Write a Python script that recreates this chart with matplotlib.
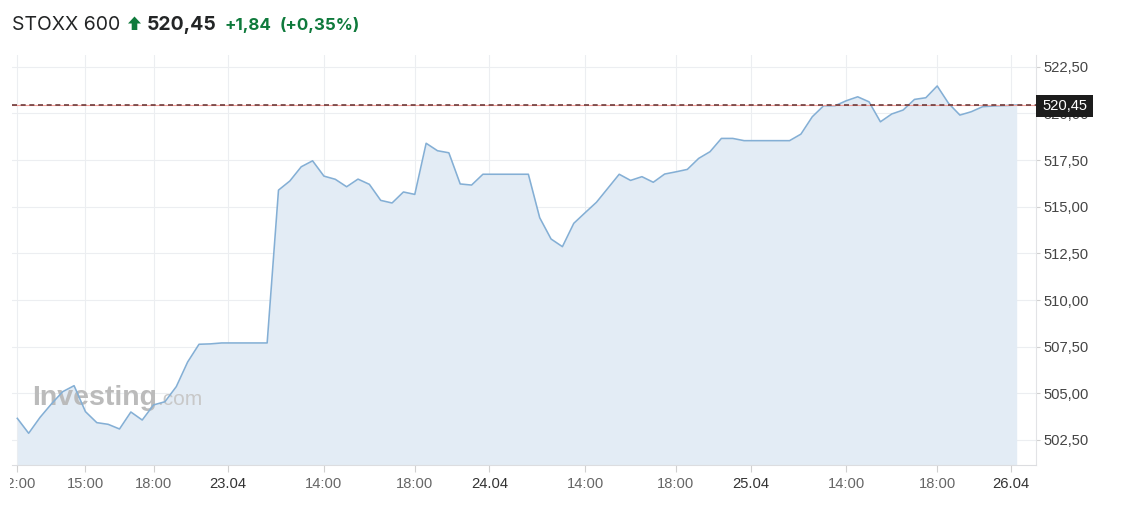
import matplotlib
matplotlib.use("Agg")
import matplotlib.pyplot as plt
from matplotlib.patches import Polygon, Rectangle
from matplotlib.transforms import blended_transform_factory, Bbox

# ---------------- data ----------------
values = [
    503.66, 502.86, 503.71, 504.43, 505.09, 505.41, 504.02, 503.43, 503.34, 503.09,
    504.00, 503.57, 504.38, 504.55, 505.36, 506.68, 507.63, 507.65, 507.70, 507.70,
    507.70, 507.70, 507.70, 515.89, 516.38, 517.14, 517.46, 516.64, 516.47, 516.07,
    516.48, 516.20, 515.34, 515.20, 515.79, 515.66, 518.40, 518.00, 517.89, 516.22,
    516.16, 516.74, 516.74, 516.74, 516.74, 516.74, 514.41, 513.27, 512.86, 514.11,
    514.68, 515.24, 515.99, 516.74, 516.41, 516.61, 516.31, 516.75, 516.87, 517.00,
    517.59, 517.95, 518.66, 518.66, 518.54, 518.54, 518.54, 518.54, 518.54, 518.89,
    519.82, 520.41, 520.41, 520.68, 520.89, 520.62, 519.55, 519.97, 520.18, 520.75,
    520.84, 521.47, 520.54, 519.91, 520.09, 520.36, 520.40, 520.42, 520.45,
]
x_idx = list(range(len(values)))

xtick_pos = [0, 6, 12, 18.53, 27, 35, 41.56, 50, 58, 64.58, 73, 81, 87.5]
xtick_labels = ['12:00', '15:00', '18:00', '23.04', '14:00', '18:00', '24.04',
                '14:00', '18:00', '25.04', '14:00', '18:00', '26.04']
date_labels = {'23.04', '24.04', '25.04', '26.04'}

ytick_vals = [502.5, 505.0, 507.5, 510.0, 512.5, 515.0, 517.5, 520.0, 522.5]

last_price = 520.45
title_name = 'STOXX 600'
title_price = '520,45'
title_change = '+1,84'
title_pct = '(+0,35%)'

# ---------------- figure ----------------
W, H = 1124, 514
fig = plt.figure(figsize=(W / 100, H / 100), dpi=100)
fig.patch.set_facecolor('white')

ax_left, ax_right, ax_top, ax_bottom = 12, 1036, 55, 465
ax = fig.add_axes([ax_left / W, (H - ax_bottom) / H,
                   (ax_right - ax_left) / W, (ax_bottom - ax_top) / H])

ymin, ymax = 501.16, 523.13
ax.set_xlim(-0.467, 89.7)
ax.set_ylim(ymin, ymax)

tick_font = 'Liberation Sans'

ax.fill_between(x_idx, values, ymin, color='#e3ecf5', lw=0, zorder=1)
ax.plot(x_idx, values, color='#84afd5', lw=1.15, zorder=3, solid_joinstyle='round')

# last-price line
ax.axhline(last_price, color='#f3a09a', lw=0.8, zorder=4)
ax.axhline(last_price, color='#6e3b3b', lw=1.2, dashes=(3, 2.2), zorder=4.1)

# grid
ax.set_axisbelow(True)
ax.grid(True, color='#eceef1', lw=0.8)

# spines
for s in ['top', 'left']:
    ax.spines[s].set_visible(False)
ax.spines['bottom'].set_color('#dcdde0')
ax.spines['right'].set_color('#e2e3e6')
ax.spines['bottom'].set_linewidth(0.8)
ax.spines['right'].set_linewidth(0.8)

# x ticks
ax.set_xticks(xtick_pos)
ax.set_xticklabels(xtick_labels, fontfamily=tick_font, fontsize=10.6)
ax.tick_params(axis='x', length=5, width=0.8, color='#d0d0d0', pad=4)
for lbl in ax.get_xticklabels():
    lbl.set_color('#333333' if lbl.get_text() in date_labels else '#666666')
first_lbl = ax.get_xticklabels()[0]
first_lbl.set_clip_box(Bbox([[10, 0], [W, H]]))
first_lbl.set_clip_on(True)

# y ticks on right
ax.yaxis.tick_right()
ax.set_yticks(ytick_vals)
ax.set_yticklabels([f'{v:.2f}'.replace('.', ',') for v in ytick_vals],
                   fontfamily=tick_font, fontsize=10.6)
ax.tick_params(axis='y', length=3, width=0.8, color='#d0d0d0', pad=2.5,
               labelcolor='#444444')

# last price label box
btr = blended_transform_factory(ax.transAxes, ax.transData)
box_w = 57 / (ax_right - ax_left)
px_per_unit = (ax_bottom - ax_top) / (ymax - ymin)
box_h = 22.5 / px_per_unit
box_c = last_price - 1.2 / px_per_unit
ax.add_patch(Rectangle((1.0, box_c - box_h / 2), box_w, box_h,
                       transform=btr, facecolor='#1c1c1c', edgecolor='none',
                       clip_on=False, zorder=10))
ax.text(1.0 + box_w / 2, box_c, title_price, transform=btr,
        ha='center', va='center', color='white', fontsize=10.6,
        fontfamily=tick_font, zorder=11, clip_on=False)

# watermark
ax.text((32 - ax_left) / (ax_right - ax_left), (ax_bottom - 405) / (ax_bottom - ax_top),
        'Investing', transform=ax.transAxes, fontsize=20.5, fontweight='bold',
        fontfamily='Liberation Sans', color='#bbbbbb', ha='left', va='baseline',
        zorder=2)
ax.text((157 - ax_left) / (ax_right - ax_left), (ax_bottom - 405) / (ax_bottom - ax_top),
        '.com', transform=ax.transAxes, fontsize=15, fontfamily='Liberation Sans',
        color='#c8c8c8', ha='left', va='baseline', zorder=2)

# ---------------- header ----------------
def fy(py):
    return 1 - py / H

base = 30
hfont = 'Inter'
fig.text(12 / W, fy(base), title_name, fontsize=14, fontfamily=hfont,
         color='#232526', ha='left', va='baseline')
arrow = [(128, 23.5), (134.5, 16.5), (141, 23.5), (137.3, 23.5), (137.3, 30),
         (131.7, 30), (131.7, 23.5)]
fig.patches.append(Polygon([(px / W, fy(py)) for px, py in arrow], closed=True,
                           transform=fig.transFigure, facecolor='#0f7a3c',
                           edgecolor='none'))
fig.text(147 / W, fy(base), title_price, fontsize=14, fontfamily=hfont,
         fontweight='bold', color='#232526', ha='left', va='baseline')
fig.text(225 / W, fy(base), title_change, fontsize=12.2, fontfamily=hfont,
         fontweight='bold', color='#0f7a3c', ha='left', va='baseline')
fig.text(280 / W, fy(base), title_pct, fontsize=12.2, fontfamily=hfont,
         fontweight='bold', color='#0f7a3c', ha='left', va='baseline')

fig.savefig('out.png', dpi=100, facecolor='white')
